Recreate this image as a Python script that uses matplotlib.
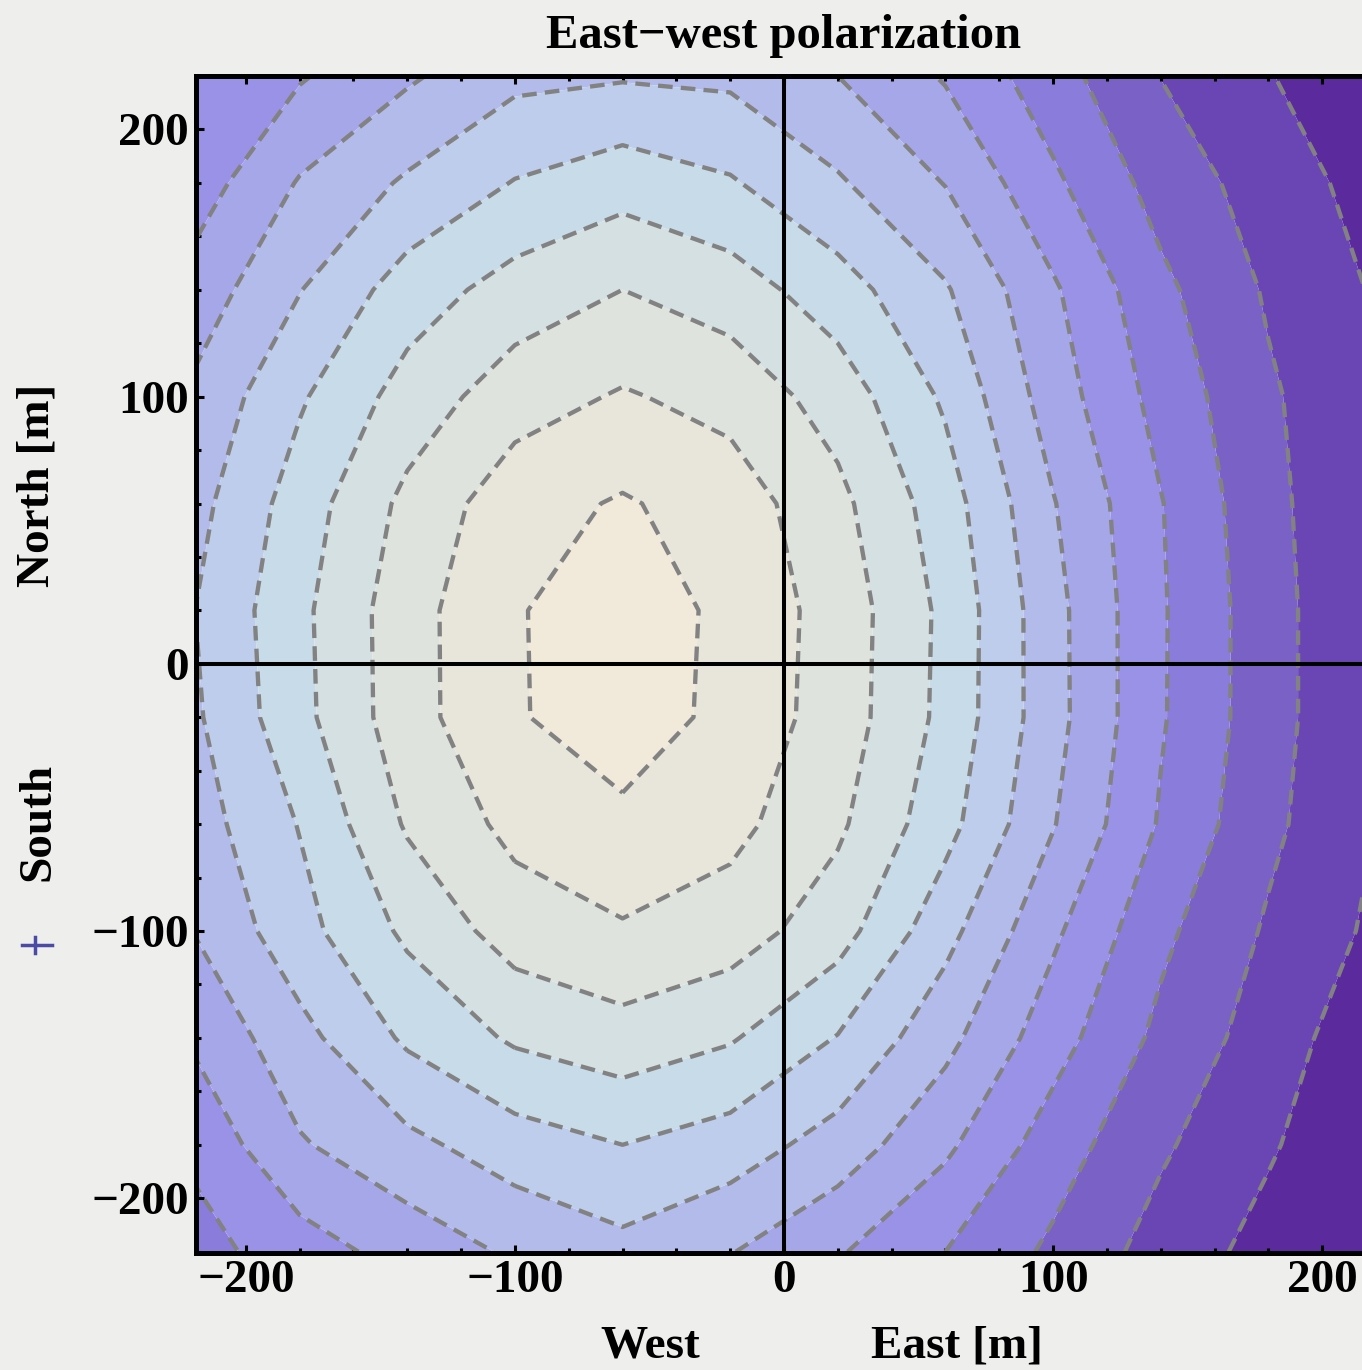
"""
East-west polarization footprint: filled contour map of the field on the
ground plane, with dashed contour lines and the origin axes drawn in.
"""

import numpy as np
import matplotlib
matplotlib.use('Agg')
import matplotlib.pyplot as plt
from matplotlib.ticker import MultipleLocator
from matplotlib.lines import Line2D

BG = '#eeeeec'
LINE = '#828282'
FONT = 'Liberation Serif'

# sample positions (m)
east_m = [-220, -180, -140, -100, -60, -20, 20, 60, 100, 140, 180, 220]
north_m = [-220, -180, -140, -100, -60, -20, 20, 60, 100, 140, 180, 220]

# field level at each sample, one list per northing (south -> north)
row_s220 = [2.60, 3.53, 4.39, 5.15, 5.70, 5.05, 4.10, 3.00, 1.80, 0.60, -0.35, -1.30]
row_s180 = [3.20, 4.90, 5.74, 6.53, 7.00, 6.53, 5.57, 4.20, 2.50, 1.15, 0.12, -0.90]
row_s140 = [4.12, 5.68, 7.17, 8.15, 8.60, 8.10, 6.95, 5.30, 3.43, 1.75, 0.52, -0.70]
row_s100 = [5.00, 6.65, 8.20, 9.46, 9.90, 9.50, 8.43, 6.33, 4.19, 2.23, 0.87, -0.20]
row_s60 = [5.50, 7.05, 9.12, 10.29, 10.75, 10.30, 9.18, 7.35, 5.06, 2.90, 1.23, 0.00]
row_s20 = [5.80, 7.70, 9.60, 10.90, 11.60, 10.69, 9.56, 7.72, 5.35, 3.10, 1.40, -0.05]
row_n20 = [5.95, 7.76, 9.61, 10.91, 11.65, 10.73, 9.60, 7.76, 5.33, 3.11, 1.40, -0.05]
row_n60 = [5.62, 7.48, 9.26, 10.60, 11.10, 10.55, 9.27, 7.47, 5.06, 3.05, 1.27, 0.05]
row_n100 = [5.17, 6.87, 8.41, 9.55, 10.10, 9.65, 8.56, 6.84, 4.50, 2.65, 1.14, 0.12]
row_n140 = [4.38, 5.96, 7.48, 8.41, 9.00, 8.50, 7.44, 6.10, 4.14, 2.24, 0.88, -0.10]
row_n180 = [3.45, 5.08, 6.14, 7.05, 7.60, 7.10, 6.12, 4.96, 3.19, 1.60, 0.53, -0.40]
row_n220 = [3.60, 3.90, 4.85, 5.75, 5.90, 5.80, 5.00, 3.90, 2.40, 0.98, 0.05, -0.80]

contour_levels = list(range(0, 12))

# band colours, low (purple) to high (cream)
band_colors = ['#5b2a9d', '#6a46b4', '#7a61c6', '#8a7cdb', '#9a92e6', '#a6a7e8',
               '#b2bbea', '#bdcdeb', '#c8dbe8', '#d5e0e3', '#dfe3de', '#e8e5da',
               '#f1e9d9']

Z = np.array([row_s220, row_s180, row_s140, row_s100, row_s60, row_s20,
              row_n20, row_n60, row_n100, row_n140, row_n180, row_n220])
X, Y = np.meshgrid(east_m, north_m)
fill_edges = [Z.min() - 1] + contour_levels + [Z.max() + 1]

W, H = 1362, 1370
fig = plt.figure(figsize=(W / 100, H / 100), dpi=100, facecolor=BG)
ax = fig.add_axes([196 / W, 1 - 1253 / H, 1176 / W, 1177 / H])

ax.contourf(X, Y, Z, levels=fill_edges, colors=band_colors, antialiased=True)
cs = ax.contour(X, Y, Z, levels=contour_levels, colors=LINE, linewidths=3.1)
cs.set_linestyle((0, (3.4, 1.9)))

ax.axhline(0, color='black', lw=2.9, zorder=4)
ax.axvline(0, color='black', lw=2.9, zorder=4)

ax.set_xlim(-218.5, 218.5)
ax.set_ylim(-220.5, 220)

for side in ['top', 'left', 'bottom']:
    ax.spines[side].set_linewidth(3.6)
ax.spines['right'].set_visible(False)

ax.xaxis.set_major_locator(MultipleLocator(100))
ax.xaxis.set_minor_locator(MultipleLocator(20))
ax.yaxis.set_major_locator(MultipleLocator(100))
ax.yaxis.set_minor_locator(MultipleLocator(20))
ax.tick_params(which='both', direction='in', top=True, right=False, width=2.2,
               labelsize=34, pad=5)
ax.tick_params(which='major', length=5.5)
ax.tick_params(which='minor', length=3.5)
for lab in ax.get_xticklabels() + ax.get_yticklabels():
    lab.set_fontfamily(FONT)
    lab.set_fontweight('bold')

ax.set_title('East\u2212west polarization', fontsize=35, fontweight='bold',
             family=FONT, pad=20)

fig.text(650 / W, 1 - 1358 / H, 'West', fontsize=34, fontweight='bold',
         family=FONT, ha='center', va='baseline')
fig.text(957 / W, 1 - 1358 / H, 'East [m]', fontsize=34, fontweight='bold',
         family=FONT, ha='center', va='baseline')
fig.text(38 / W, 1 - 485 / H, 'North [m]', fontsize=34, fontweight='bold',
         family=FONT, ha='center', va='center', rotation=90)
fig.text(38 / W, 1 - 822 / H, 'South', fontsize=34, fontweight='bold',
         family=FONT, ha='center', va='center', rotation=90)

# stray marker at the left margin
fig.add_artist(Line2D([22 / W, 52 / W], [1 - 945 / H] * 2, color='#4b4ba6', lw=2.5))
fig.add_artist(Line2D([35 / W] * 2, [1 - 937 / H, 1 - 953 / H], color='#4b4ba6', lw=2.5))

fig.savefig('out.png', dpi=100, facecolor=BG)
plt.close(fig)
